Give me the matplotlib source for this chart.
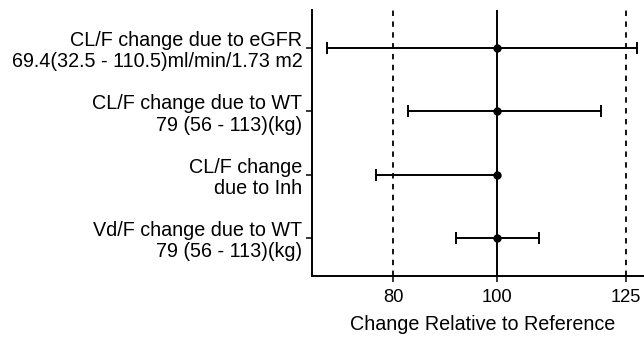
import matplotlib
matplotlib.use("Agg")
import matplotlib.pyplot as plt

plt.rcParams['font.family'] = ['Liberation Sans', 'DejaVu Sans']

labels = [
    "CL/F change due to eGFR\n69.4(32.5 - 110.5)ml/min/1.73 m2",
    "CL/F change due to WT\n79 (56 - 113)(kg)",
    "CL/F change\ndue to Inh",
    "Vd/F change due to WT\n79 (56 - 113)(kg)",
]
point = [100, 100, 100, 100]
low = [67.3, 82.9, 76.8, 92.1]
high = [127.2, 120.2, 100.0, 108.2]
ref_lines = [80, 125]
center_line = 100
xticks = [80, 100, 125]

FS = 14.2

fig = plt.figure(figsize=(6.44, 3.37), dpi=100)
ax = fig.add_axes([312/644, 1-276/337, (653-312)/644, (276-10)/337])

n = len(labels)
ypos = [n - 1 - i for i in range(n)]
xerr = [[p - l for p, l in zip(point, low)], [h - p for p, h in zip(point, high)]]

for r in ref_lines:
    ax.axvline(r, color='black', linestyle=(0, (3, 3)), linewidth=1.3, zorder=1)
ax.axvline(center_line, color='black', linewidth=1.4, zorder=1)

ax.errorbar(point, ypos, xerr=xerr, fmt='o', color='black', markersize=5,
            capsize=4.5, elinewidth=1.4, capthick=1.4, zorder=3)

ax.set_xlim(64.35, 130.2)
ax.set_ylim(-0.6, 3.6)
ax.set_yticks(ypos)
ax.set_yticklabels(labels, fontsize=FS, linespacing=1.15)
ax.set_xticks(xticks)
ax.set_xticklabels([str(t) for t in xticks], fontsize=13.2)
ax.set_xlabel("Change Relative to Reference", fontsize=FS, labelpad=7)
for s in ['top', 'right']:
    ax.spines[s].set_visible(False)
for s in ['left', 'bottom']:
    ax.spines[s].set_linewidth(1.4)
ax.tick_params(axis='both', length=4, width=1.1, color='black')
ax.tick_params(axis='x', pad=5)
ax.tick_params(axis='y', pad=3)

fig.savefig("out.png", dpi=100)
